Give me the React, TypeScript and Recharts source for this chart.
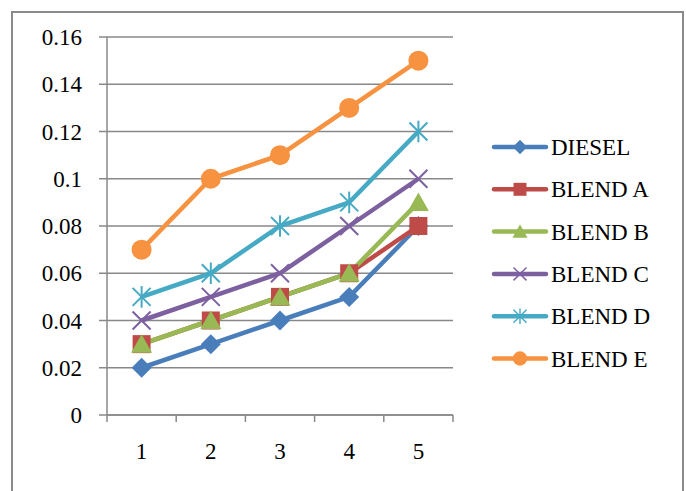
import React from 'react';
import { LineChart, Line, XAxis, YAxis, CartesianGrid } from 'recharts';

// Test runs along the x axis
const runs = [1, 2, 3, 4, 5];

// Measured values per fuel
const diesel = [0.02, 0.03, 0.04, 0.05, 0.08];
const blendA = [0.03, 0.04, 0.05, 0.06, 0.08];
const blendB = [0.03, 0.04, 0.05, 0.06, 0.09];
const blendC = [0.04, 0.05, 0.06, 0.08, 0.1];
const blendD = [0.05, 0.06, 0.08, 0.09, 0.12];
const blendE = [0.07, 0.1, 0.11, 0.13, 0.15];

const seriesNames = ['DIESEL', 'BLEND A', 'BLEND B', 'BLEND C', 'BLEND D', 'BLEND E'];
const yTicks = [0, 0.02, 0.04, 0.06, 0.08, 0.1, 0.12, 0.14, 0.16];
// Half steps carry the category separators, whole steps carry the labels
const xTicks = [0.5, 1, 1.5, 2, 2.5, 3, 3.5, 4, 4.5, 5, 5.5];

type MarkerKind = 'diamond' | 'square' | 'triangle' | 'cross' | 'star' | 'circle';

const series: { key: string; values: number[]; color: string; marker: MarkerKind }[] = [
  { key: seriesNames[0], values: diesel, color: '#4A7EBB', marker: 'diamond' },
  { key: seriesNames[1], values: blendA, color: '#BE4B48', marker: 'square' },
  { key: seriesNames[2], values: blendB, color: '#98B954', marker: 'triangle' },
  { key: seriesNames[3], values: blendC, color: '#7D60A0', marker: 'cross' },
  { key: seriesNames[4], values: blendD, color: '#46AAC5', marker: 'star' },
  { key: seriesNames[5], values: blendE, color: '#F69240', marker: 'circle' },
];

const data = runs.map((run, i) => {
  const row: Record<string, number> = { run };
  series.forEach((s) => {
    row[s.key] = s.values[i];
  });
  return row;
});

const FONT = '"Liberation Serif", "Times New Roman", serif';
const AXIS = '#888888';

function Marker({ kind, cx, cy, color, scale = 1 }: { kind: MarkerKind; cx: number; cy: number; color: string; scale?: number }) {
  const s = scale;
  switch (kind) {
    case 'diamond': {
      const h = 10 * s;
      return (
        <polygon
          points={`${cx},${cy - h} ${cx + h},${cy} ${cx},${cy + h} ${cx - h},${cy}`}
          fill={color}
        />
      );
    }
    case 'square': {
      const h = 9 * s;
      return <rect x={cx - h} y={cy - h} width={2 * h} height={2 * h} fill={color} />;
    }
    case 'triangle': {
      const w = 10.5 * s;
      const h = 10 * s;
      return (
        <polygon points={`${cx},${cy - h} ${cx + w},${cy + h * 0.85} ${cx - w},${cy + h * 0.85}`} fill={color} />
      );
    }
    case 'cross': {
      const h = 9 * s;
      return (
        <g stroke={color} strokeWidth={2}>
          <line x1={cx - h} y1={cy - h} x2={cx + h} y2={cy + h} />
          <line x1={cx - h} y1={cy + h} x2={cx + h} y2={cy - h} />
        </g>
      );
    }
    case 'star': {
      const h = 9 * s;
      return (
        <g stroke={color} strokeWidth={2}>
          <line x1={cx - h} y1={cy - h} x2={cx + h} y2={cy + h} />
          <line x1={cx - h} y1={cy + h} x2={cx + h} y2={cy - h} />
          <line x1={cx} y1={cy - h * 1.2} x2={cx} y2={cy + h * 1.2} />
        </g>
      );
    }
    default:
      return <circle cx={cx} cy={cy} r={10} fill={color} />;
  }
}

function XTick(props: any) {
  const { x, y, payload } = props;
  const v = payload.value as number;
  if (Number.isInteger(v)) {
    return (
      <text x={x} y={y + 44} textAnchor="middle" fontFamily={FONT} fontSize={23} fill="#000">
        {v}
      </text>
    );
  }
  return <line x1={x} y1={y} x2={x} y2={y + 7} stroke={AXIS} strokeWidth={1.5} />;
}

function LegendBox() {
  const top = 147;
  const step = 42.3;
  return (
    <svg width={686} height={491} style={{ position: 'absolute', left: 0, top: 0, pointerEvents: 'none' }}>
      {series.map((s, i) => {
        const cy = top + i * step;
        return (
          <g key={s.key}>
            <line x1={494} y1={cy} x2={546} y2={cy} stroke={s.color} strokeWidth={4.5} strokeLinecap="round" />
            <g transform={`translate(${520},${cy}) scale(0.72) translate(${-520},${-cy})`}>
              <Marker kind={s.marker} cx={520} cy={cy} color={s.color} />
            </g>
            <text x={551} y={cy + 8} fontFamily={FONT} fontSize={23} fill="#000">
              {s.key}
            </text>
          </g>
        );
      })}
    </svg>
  );
}

export default function App() {
  return (
    <div style={{ position: 'absolute', left: 0, top: 0, width: 686, height: 491, overflow: 'hidden', background: '#fff' }}>
      <div
        style={{
          position: 'absolute',
          left: 11,
          top: 11,
          width: 669,
          height: 520,
          border: '2px solid #8a8a8a',
        }}
      />
      <div style={{ position: 'absolute', left: 0, top: 0 }}>
        <LineChart width={686} height={491} data={data} margin={{ top: 37, right: 233, bottom: 26, left: 27 }}>
          <CartesianGrid vertical={false} stroke={AXIS} strokeWidth={1.5} />
          <XAxis
            dataKey="run"
            type="number"
            domain={[0.5, 5.5]}
            ticks={xTicks}
            interval={0}
            height={50}
            tickLine={false}
            tickSize={0}
            tickMargin={0}
            axisLine={{ stroke: AXIS, strokeWidth: 1.5 }}
            tick={<XTick />}
          />
          <YAxis
            type="number"
            domain={[0, 0.16]}
            ticks={yTicks}
            interval={0}
            width={80}
            tickSize={8}
            tickMargin={17}
            axisLine={{ stroke: AXIS, strokeWidth: 1.5 }}
            tickLine={{ stroke: AXIS, strokeWidth: 1.5 }}
            tick={{ fontFamily: FONT, fontSize: 23, fill: '#000' }}
            tickFormatter={(v: number) => String(v)}
          />
          {series.map((s) => (
            <Line
              key={s.key}
              dataKey={s.key}
              stroke={s.color}
              strokeWidth={4.5}
              isAnimationActive={false}
              activeDot={false}
              dot={(p: any) => (
                <Marker key={`${s.key}-${p.index}`} kind={s.marker} cx={p.cx} cy={p.cy} color={s.color} />
              )}
            />
          ))}
        </LineChart>
      </div>
      <LegendBox />
    </div>
  );
}
